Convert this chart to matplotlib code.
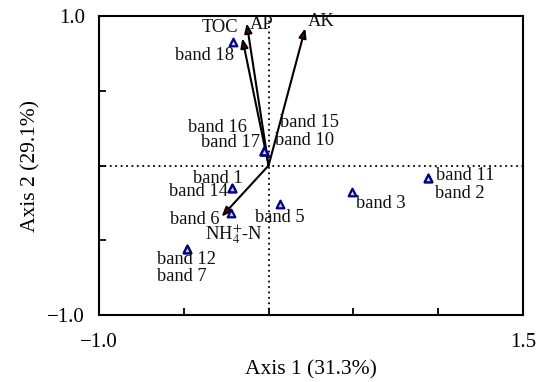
import matplotlib
matplotlib.use("Agg")
import matplotlib.pyplot as plt
from matplotlib.patches import FancyArrowPatch

plt.rcParams['font.family'] = ['Liberation Serif', 'DejaVu Serif']
plt.rcParams['mathtext.fontset'] = 'stix'

# Sample (band) scores
bands = ['band 1', 'band 14', 'band 6', 'band 5', 'band 12', 'band 7', 'band 3',
         'band 11', 'band 2', 'band 16', 'band 17', 'band 15', 'band 10', 'band 18']
band_x = [-0.218, -0.218, -0.224, 0.067, -0.483, -0.483, 0.490,
          0.942, 0.942, -0.025, -0.025, -0.025, -0.025, -0.212]
band_y = [-0.153, -0.153, -0.320, -0.260, -0.559, -0.559, -0.175,
          -0.086, -0.086, 0.097, 0.097, 0.097, 0.097, 0.828]

# Environmental variable vectors
env_vars = ['TOC', 'AP', 'AK', r'NH$_4^{+}$-N']
env_x = [-0.155, -0.129, 0.216, -0.277]
env_y = [0.851, 0.951, 0.918, -0.342]

# label placements (left edge, vertical centre) in data units
label_pos = {
    'band 1': (-0.448, -0.084), 'band 14': (-0.587, -0.175), 'band 6': (-0.581, -0.358),
    'band 5': (-0.080, -0.351), 'band 12': (-0.660, -0.632), 'band 7': (-0.658, -0.744),
    'band 3': (0.515, -0.251), 'band 11': (0.987, -0.064), 'band 2': (0.981, -0.184),
    'band 16': (-0.475, 0.251), 'band 17': (-0.400, 0.151), 'band 15': (0.067, 0.286),
    'band 10': (0.038, 0.166), 'band 18': (-0.552, 0.739),
    'TOC': (-0.394, 0.920), 'AP': (-0.110, 0.940), 'AK': (0.232, 0.960),
    r'NH$_4^{+}$-N': (-0.375, -0.465),
}

fig = plt.figure(figsize=(5.42, 3.82), dpi=100)
ax = fig.add_axes([99/542, 1-315/382, 424/542, 299/382])
ax.set_xlim(-1.0, 1.5)
ax.set_ylim(-1.0, 1.0)

ax.axhline(0, color='black', ls=(0, (1, 2)), lw=1.3, zorder=1)
ax.axvline(0, color='black', ls=(0, (1, 2)), lw=1.3, zorder=1)

for name, x, y in zip(env_vars, env_x, env_y):
    arr = FancyArrowPatch((0, 0), (x, y), arrowstyle='-|>,head_length=4,head_width=1.6',
                          mutation_scale=1.4, lw=1.5, ec='black', fc='#700000',
                          shrinkA=0, shrinkB=0, zorder=3)
    ax.add_patch(arr)

ax.scatter(band_x, band_y, marker='^', s=30, facecolor='#c8d4f4',
           edgecolor='#000080', linewidths=1.6, zorder=4)

for name in bands + env_vars:
    lx, ly = label_pos[name]
    ax.text(lx, ly, name, fontsize=13.3, ha='left', va='center', color='#111111', zorder=5)

ax.set_xticks([-1.0, -0.5, 0, 0.5, 1.0, 1.5])
ax.set_xticklabels(['\u22121.0', '', '', '', '', '1.5'])
ax.set_yticks([-1.0, -0.5, 0, 0.5, 1.0])
ax.set_yticklabels(['\u22121.0', '', '', '', '1.0'])
ax.tick_params(direction='in', length=5, width=1.3, labelsize=15)
ax.tick_params(axis='x', pad=13)
ax.tick_params(axis='y', pad=10)
for s in ax.spines.values():
    s.set_linewidth(1.5)

ax.set_xlabel('Axis 1 (31.3%)', fontsize=15.5, labelpad=6)
ax.set_ylabel('Axis 2 (29.1%)', fontsize=15.5, labelpad=5)

fig.savefig('out.png', dpi=100)
